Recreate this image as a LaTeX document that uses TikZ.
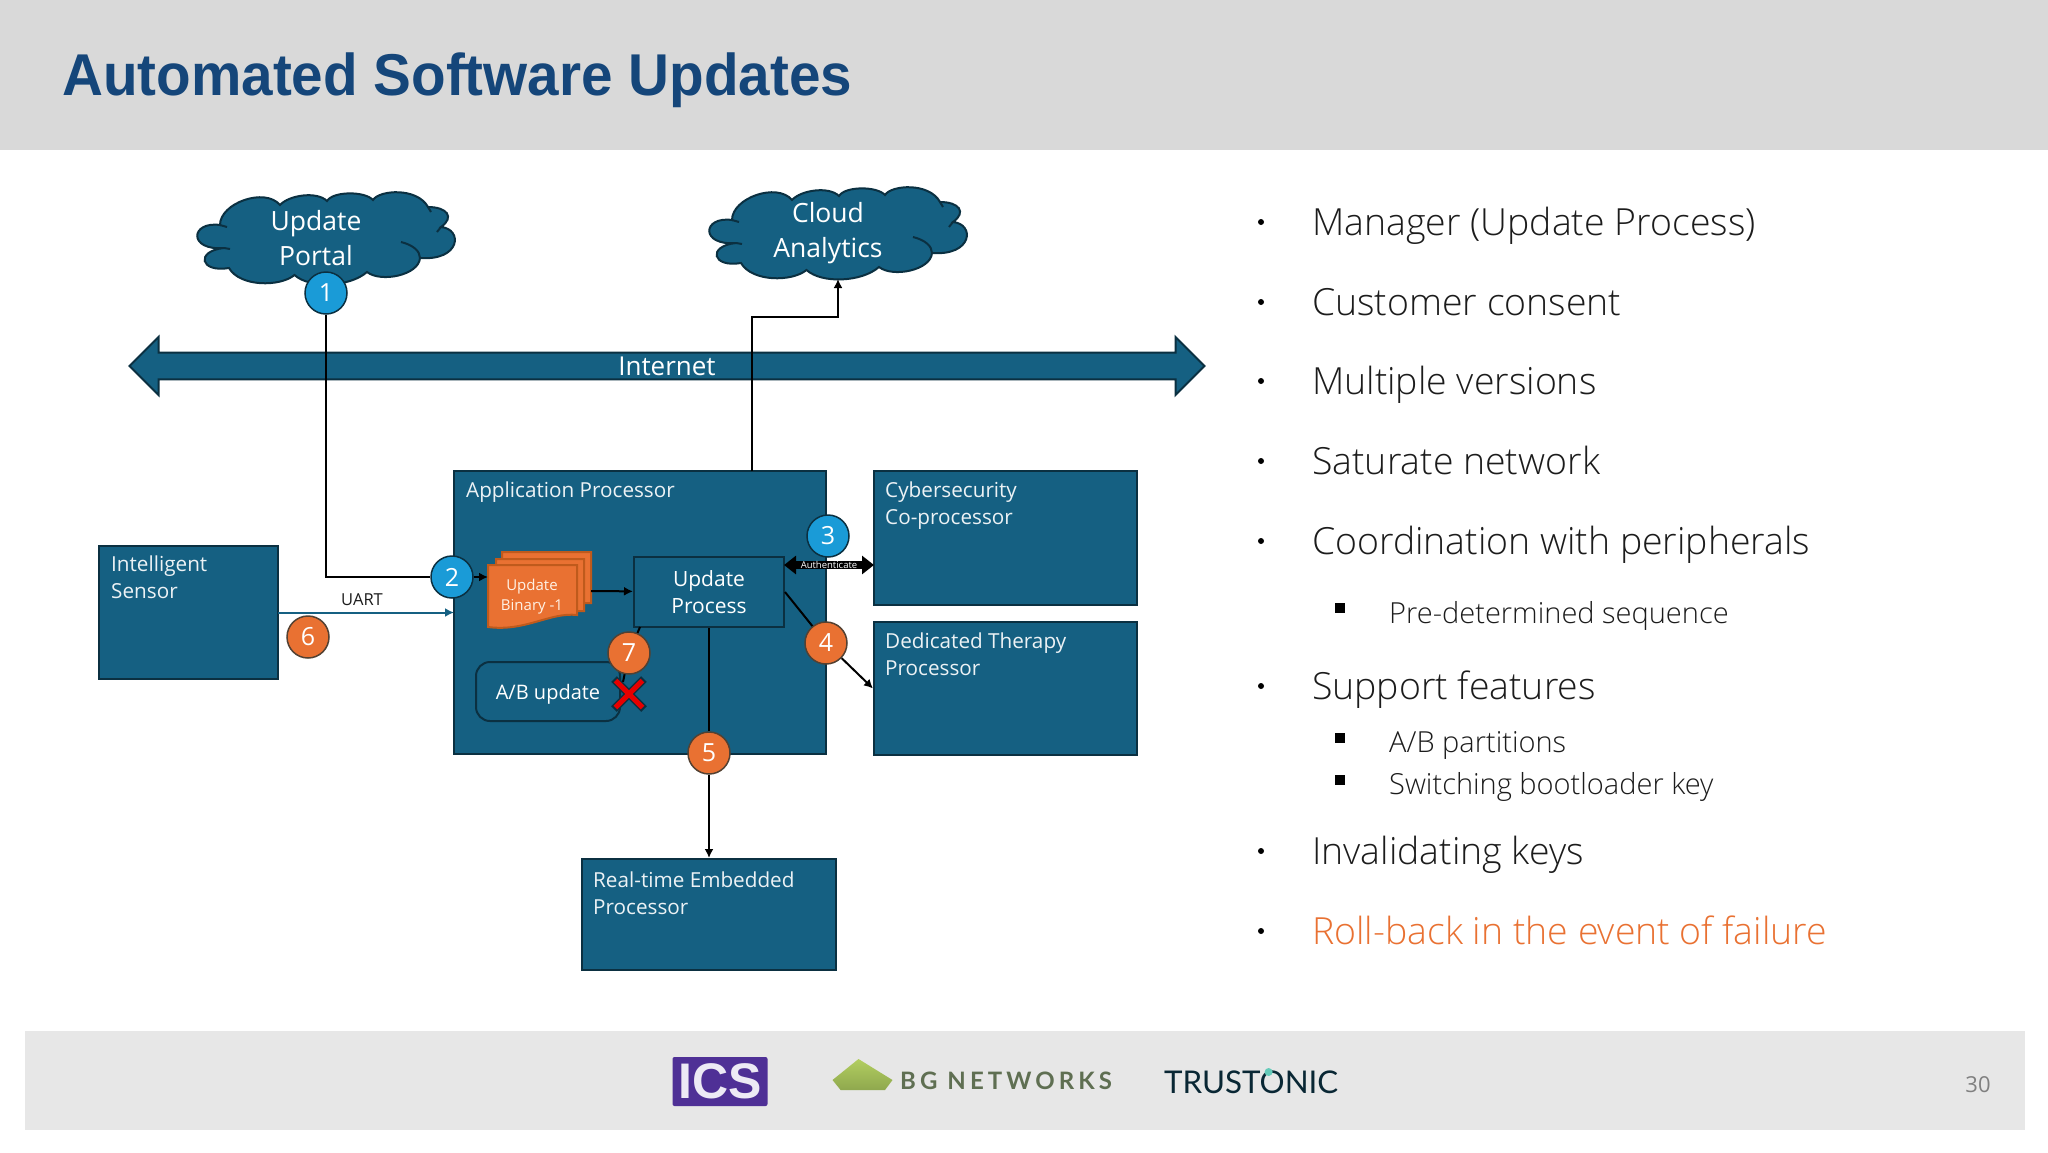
\documentclass[tikz,border=0pt]{standalone}
\usepackage{fontspec}
\setmainfont{Open Sans}
\newfontfamily\bodyfont{Open Sans Light}
\newfontfamily\headfont{Liberation Sans}
\newfontfamily\logofont{Lato}
\newfontfamily\bgfont[LetterSpace=17]{Lato}
\usetikzlibrary{arrows.meta, shapes.arrows, shapes.misc}
\definecolor{boxfill}{HTML}{156082}
\definecolor{boxedge}{HTML}{0B3041}
\definecolor{headgray}{HTML}{D9D9D9}
\definecolor{footgray}{HTML}{E7E7E7}
\definecolor{titleblue}{HTML}{15467A}
\definecolor{stepblue}{HTML}{1A9BD7}
\definecolor{steporange}{HTML}{E97132}
\definecolor{stackedge}{HTML}{BF5A1C}
\definecolor{bodytext}{HTML}{1C1C1C}
\definecolor{icspurple}{HTML}{4F3096}
\definecolor{bgtop}{HTML}{B2CE60}
\definecolor{bgbottom}{HTML}{8FA84E}
\definecolor{bgtext}{HTML}{5F6F52}
\tikzset{
  box/.style={draw=boxedge, fill=boxfill, line width=2pt, inner sep=0pt, text=white},
  boxlabel/.style={anchor=north west, align=left, inner sep=0pt, text=white!92!boxfill, font=\fontsize{20.7}{27}\selectfont},
  cloudlabel/.style={align=center, inner sep=0pt, text=white, font=\fontsize{26.5}{34.5}\selectfont},
  stepb/.style={circle, draw=boxedge, fill=stepblue, line width=1.5pt, minimum size=42pt, inner sep=0pt, text=white, font=\fontsize{25}{25}\selectfont},
  stepo/.style={circle, draw=boxedge!60!stackedge, fill=steporange, line width=1.5pt, minimum size=42pt, inner sep=0pt, text=white, font=\fontsize{25}{25}\selectfont},
  wire/.style={draw=black, line width=2pt},
  headed/.style={-{Latex[length=9pt,width=9pt]}},
  sheet/.style={draw=stackedge, fill=steporange, line width=2pt},
  item/.style={anchor=west, inner sep=0pt, text height=24pt, text depth=7pt, text=bodytext, font=\bodyfont\fontsize{37.4}{37.4}\selectfont},
  subitem/.style={anchor=west, inner sep=0pt, text height=20pt, text depth=6pt, text=bodytext, font=\bodyfont\fontsize{29}{29}\selectfont},
  dot/.style={circle, fill=black, inner sep=0pt, minimum size=6pt},
  squaredot/.style={rectangle, fill=black, inner sep=0pt, minimum size=10pt},
  pics/puffy/.style={code={
    \draw[draw=boxedge, fill=boxfill, line width=2pt] (-105, -12)
      .. controls (-105, -34) and (-60, -50) .. (-45, -32)
      .. controls (-36, -42) and (-8, -46) .. (2, -36)
      .. controls (8, -46) and (40, -46) .. (48, -37)
      .. controls (54, -47) and (92, -50) .. (103, -30)
      .. controls (122, -30) and (130, -20) .. (116, -10)
      .. controls (138, -8) and (136, 24) .. (95, 21)
      .. controls (94, 38) and (56, 46) .. (42, 35)
      .. controls (25, 50) and (-15, 52) .. (-30.5, 38)
      .. controls (-45, 50) and (-85, 50) .. (-96, 31)
      .. controls (-125, 36) and (-130, 14) .. (-101, 11)
      .. controls (-137, 14) and (-135, -16) .. (-105, -12) -- cycle;
    \draw[draw=boxedge, line width=2pt] (95, 21) .. controls (95, 14) and (88, 8) .. (76, 5);
    \draw[draw=boxedge, line width=2pt] (-101, 11) -- (-95, 12);
    \draw[draw=boxedge, line width=2pt] (-105, -12) -- (-98, -10);
    \draw[draw=boxedge, line width=2pt] (103, -30) -- (106, -25);
    \draw[draw=boxedge, line width=2pt] (116, -10) -- (112, -5);
  }},
}
\begin{document}
\begin{tikzpicture}[x=1pt, y=-1pt]
    \useasboundingbox (0, 0) rectangle (2048, 1152);
    \fill[white] (0, 0) rectangle (2048, 1152);

    %Bands
    \fill[headgray] (0, 0) rectangle (2048, 150);
    \fill[footgray] (25, 1031) rectangle (2025, 1130);
    \node[anchor=base west, inner sep=0pt, text=titleblue, font=\headfont\bfseries\fontsize{59}{59}\selectfont] at (62, 95) (tMain) {\scalebox{0.96}[1]{Automated Software Updates}};
    \node[inner sep=0pt, text=black!50, font=\fontsize{22}{22}\selectfont] at (1978, 1085) (tPage) {30};

    %Logos
    \node[fill=icspurple, rounded corners=2pt, minimum width=95pt, minimum height=49pt, inner sep=0pt, text=white!90!icspurple, font=\headfont\bfseries\fontsize{50}{50}\selectfont] at (720, 1081.5) (lIcs) {ICS};
    \shade[top color=bgtop, bottom color=bgbottom] (858.5, 1059) -- (892.5, 1080) -- (885, 1090) -- (840.6, 1090) -- (832.5, 1080) -- cycle;
    \node[anchor=west, inner sep=0pt, text=bgtext, font=\bgfont\bfseries\fontsize{24}{24}\selectfont] at (900, 1081) (lBg) {BG NETWORKS};
    \node[anchor=west, inner sep=0pt, text=boxedge!80!black, font=\logofont\fontsize{31.3}{31.3}\selectfont] at (1164, 1082) (lTrust) {TRUSTONIC};
    \fill[cyan!50!green!60] (1268.6, 1072) circle (4);

    %Clouds
    \pic at (325, 237) {puffy};
    \pic at (837, 232) {puffy};
    \node[cloudlabel] at (316, 238) (tPortal) {Update\\Portal};
    \node[cloudlabel] at (828, 233) (tCloud) {Cloud\\Analytics};

    %Internet
    \node[double arrow, double arrow head extend=12pt, draw=boxedge, fill=boxfill, line width=2pt, inner sep=0pt, minimum width=58pt, minimum height=1075pt, text=white, font=\fontsize{26}{26}\selectfont] at (667, 366) (bNet) {Internet};

    %Boxes
    \node[box, minimum width=372pt, minimum height=283pt] at (640, 612.5) (bApp) {};
    \node[box, minimum width=263pt, minimum height=134pt] at (1005.5, 538) (bCyber) {};
    \node[box, minimum width=263pt, minimum height=133pt] at (1005.5, 688.5) (bTherapy) {};
    \node[box, minimum width=179pt, minimum height=133pt] at (188.5, 612.5) (bSensor) {};
    \node[box, minimum width=254pt, minimum height=111pt] at (709, 914.5) (bReal) {};
    \node[boxlabel] at (466, 481.5) (tApp) {Application Processor};
    \node[boxlabel] at (885, 481.5) (tCyber) {Cybersecurity\\Co-processor};
    \node[boxlabel] at (885, 632.5) (tTherapy) {Dedicated Therapy\\Processor};
    \node[boxlabel] at (111, 555.5) (tSensor) {Intelligent\\Sensor};
    \node[boxlabel] at (593, 871.5) (tReal) {Real-time Embedded\\Processor};
    \node[box, minimum width=150pt, minimum height=70pt, align=center, font=\fontsize{21}{27}\selectfont] at (709, 592) (bUpdate) {Update\\Process};
    \node[box, rounded corners=14pt, minimum width=144pt, minimum height=59pt, text depth=0pt, font=\fontsize{20}{20}\selectfont] at (548, 691.5) (bAb) {A/B update};

    %Stack
    \draw[sheet] (502, 552) -- (591, 552) -- (591, 603) -- (560, 603) -- (502, 590) -- cycle;
    \draw[sheet] (496, 559) -- (584, 559) -- (584, 611) -- (550, 611) -- (496, 600) -- cycle;
    \draw[sheet] (488, 565) -- (577, 565) -- (577, 615) .. controls (550, 612) and (525, 632) .. (488, 627) -- cycle;
    \node[align=center, inner sep=0pt, text=white!90!orange, font=\fontsize{15}{20}\selectfont] at (532, 597) (tBin) {Update\\Binary -1};

    %Steps
    \node[stepb] at (326, 293) (s1) {1};
    \node[stepb] at (452, 577) (s2) {2};
    \node[stepb] at (828, 536) (s3) {3};
    \node[stepo] at (826, 643) (s4) {4};
    \node[stepo] at (709, 753) (s5) {5};
    \node[stepo] at (308, 637) (s6) {6};
    \node[stepo] at (629, 653) (s7) {7};

    %Anchors for the free line ends
    \coordinate (pUp) at (752, 471);
    \coordinate (pBend) at (838, 317);
    \coordinate (pTop) at (838, 279);
    \coordinate (pIn) at (488, 577);
    \coordinate (pOut) at (591, 591);
    \coordinate (pAuthL) at (784, 565);
    \coordinate (pAuthR) at (874, 565);
    \coordinate (pUartL) at (278, 612.5);
    \coordinate (pUartR) at (454, 612.5);
    \coordinate (pAbIn) at (640, 627);
    \coordinate (pAbOut) at (623, 682);

    %Lines
    \draw[wire] (s1) |- (s2);
    \draw[wire, headed] (pUp) |- (pBend) -- (pTop);
    \draw[wire, headed] (s2) -- (pIn);
    \draw[wire, headed] (pOut) -- (bUpdate);
    \draw[wire] (bUpdate.east) -- (s4);
    \draw[wire, headed] (s4) -- (bTherapy.west);
    \draw[wire] (bUpdate.south) -- (s5);
    \draw[wire, headed] (s5) -- (bReal.north);
    \draw[wire] (pAbIn) -- (s7);
    \draw[wire] (s7) -- (pAbOut);
    \draw[draw=boxfill, line width=2pt, headed] (pUartL) -- (pUartR);
    \node[inner sep=0pt, text=bodytext, font=\fontsize{16.5}{16.5}\selectfont] at (362, 600) (tUart) {UART};
    \draw[draw=black, line width=8pt, {Triangle[length=12pt,width=18pt]}-{Triangle[length=12pt,width=18pt]}] (pAuthL) -- (pAuthR);
    \node[inner sep=0pt, text=white, font=\fontsize{9.5}{9.5}\selectfont] at (829, 564.5) (tAuth) {Authenticate};

    %Cross
    \node[cross out, draw=boxedge, line width=8pt, minimum size=22pt, inner sep=0pt] at (629, 694) (xAb) {};
    \node[cross out, draw=red!90!black, line width=5pt, minimum size=22pt, inner sep=0pt] at (629, 694) (xAbTop) {};

    %Bullets
    \node[dot] at (1261, 222) (d1) {};
    \node[dot] at (1261, 302) (d2) {};
    \node[dot] at (1261, 381) (d3) {};
    \node[dot] at (1261, 461) (d4) {};
    \node[dot] at (1261, 541) (d5) {};
    \node[squaredot] at (1340, 608) (q1) {};
    \node[dot] at (1261, 686) (d6) {};
    \node[squaredot] at (1340, 738) (q2) {};
    \node[squaredot] at (1340, 780) (q3) {};
    \node[dot] at (1261, 851) (d7) {};
    \node[dot] at (1261, 931) (d8) {};
    \node[item] at (1312, 227) (i1) {Manager (Update Process)};
    \node[item] at (1312, 307) (i2) {Customer consent};
    \node[item] at (1312, 386) (i3) {Multiple versions};
    \node[item] at (1312, 466) (i4) {Saturate network};
    \node[item] at (1312, 546) (i5) {Coordination with peripherals};
    \node[subitem] at (1389, 616) (i6) {Pre-determined sequence};
    \node[item] at (1312, 691) (i7) {Support features};
    \node[subitem] at (1389, 745) (i8) {A/B partitions};
    \node[subitem] at (1389, 787) (i9) {Switching bootloader key};
    \node[item] at (1312, 856) (i10) {Invalidating keys};
    \node[item, text=steporange] at (1312, 936) (i11) {Roll-back in the event of failure};
\end{tikzpicture}
\end{document}
